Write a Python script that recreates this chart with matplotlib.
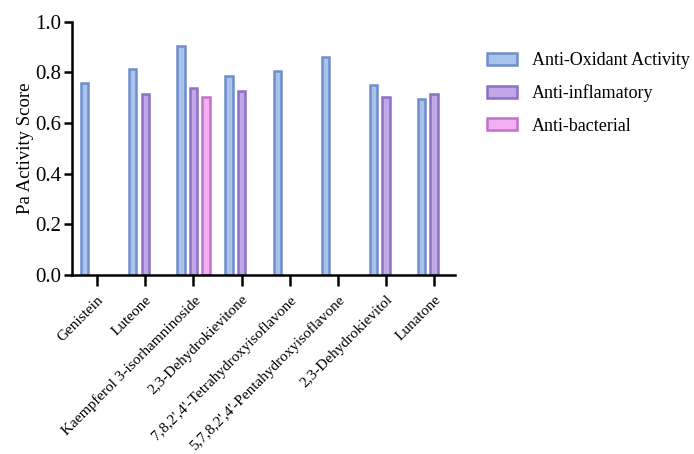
import numpy as np
import matplotlib.pyplot as plt
from matplotlib.patches import Patch

compounds = ["Genistein", "Luteone", "Kaempferol 3-isorhamninoside",
             "2,3-Dehydrokievitone", "7,8,2',4'-Tetrahydroxyisoflavone",
             "5,7,8,2',4'-Pentahydroxyisoflavone", "2,3-Dehydrokievitol", "Lunatone"]
series = ["Anti-Oxidant Activity", "Anti-inflamatory", "Anti-bacterial"]
antioxidant = [0.76, 0.815, 0.905, 0.785, 0.805, 0.86, 0.75, 0.695]
antiinflam = [np.nan, 0.715, 0.74, 0.725, np.nan, np.nan, 0.705, 0.715]
antibact = [np.nan, np.nan, 0.705, np.nan, np.nan, np.nan, np.nan, np.nan]

fills = ["#a9c3ec", "#bfa7e8", "#f2b0f0"]
edges = ["#6f8fcb", "#8f6fc6", "#c46fcb"]

plt.rcParams['font.family'] = ['Liberation Serif', 'DejaVu Serif']

fig = plt.figure(figsize=(6.94, 4.54), dpi=100)
ax = fig.add_axes([0.104, 0.394, 0.552, 0.558])

x = np.arange(len(compounds))
offsets = [-0.26, 0.0, 0.26]
for vals, off, fc, ec in zip([antioxidant, antiinflam, antibact], offsets, fills, edges):
    ax.bar(x + off, vals, width=0.15, color=fc, edgecolor=ec, linewidth=1.8)

ax.set_xlim(-0.52, 7.44)
ax.set_ylim(0, 1.0)
ax.set_yticks([0.0, 0.2, 0.4, 0.6, 0.8, 1.0])
ax.set_yticklabels(["0.0", "0.2", "0.4", "0.6", "0.8", "1.0"], fontsize=15)
ax.set_xticks(x)
ax.set_xticklabels(compounds, rotation=45, ha='right', rotation_mode='anchor', fontsize=11)
ax.set_ylabel("Pa Activity Score", fontsize=13.5, labelpad=1)

for s in ['top', 'right']:
    ax.spines[s].set_visible(False)
for s in ['left', 'bottom']:
    ax.spines[s].set_linewidth(1.8)
ax.tick_params(axis='y', width=1.8, length=6, pad=2)
ax.tick_params(axis='x', width=1.8, length=8, pad=5)

handles = [Patch(facecolor=fc, edgecolor=ec, linewidth=1.8) for fc, ec in zip(fills, edges)]
fig.legend(handles, series, loc='upper left', bbox_to_anchor=(0.702, 0.885),
           frameon=False, fontsize=13, handlelength=1.65, handleheight=0.65,
           labelspacing=0.85, handletextpad=0.85, borderpad=0, borderaxespad=0)

fig.savefig("out.png", dpi=100)
